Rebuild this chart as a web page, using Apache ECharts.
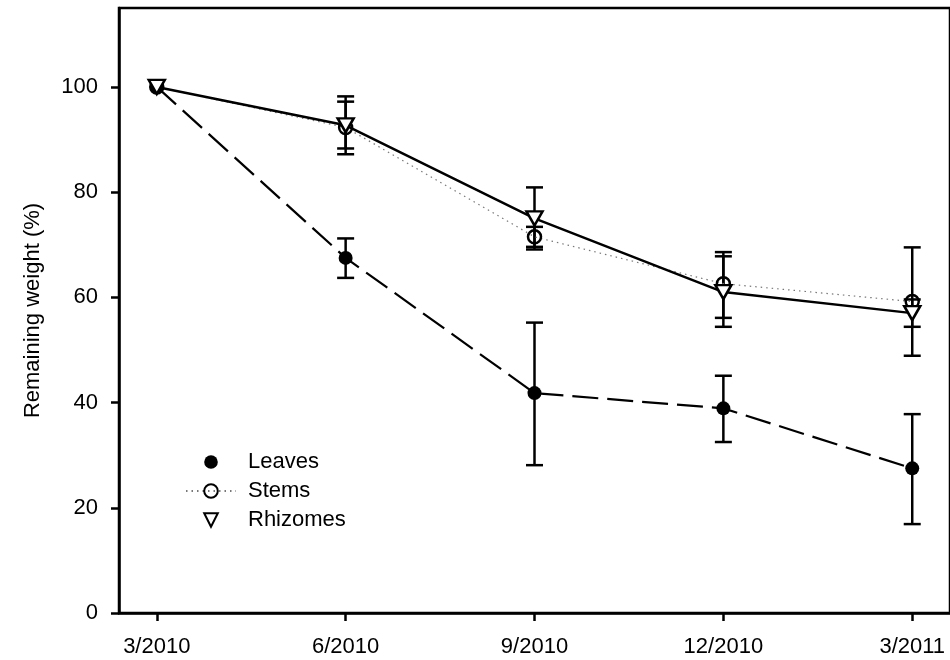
<!DOCTYPE html>
<html>
<head>
<meta charset="utf-8">
<script src="https://cdn.jsdelivr.net/npm/echarts@6/dist/echarts.min.js"></script>
<style>html,body{margin:0;padding:0;background:#fff;}#c{width:950px;height:660px;}</style>
</head>
<body>
<div id="c"></div>
<script>
const dates = ['3/2010', '6/2010', '9/2010', '12/2010', '3/2011'];
const yTicks = [0, 20, 40, 60, 80, 100];
const leaves = [100, 67.5, 41.8, 38.9, 27.5];
const leavesLow = [100, 63.7, 28.1, 32.5, 16.9];
const leavesHigh = [100, 71.2, 55.2, 45.1, 37.8];
const stems = [100, 92.3, 71.5, 62.6, 59.2];
const stemsLow = [100, 88.3, 69.6, 56.1, 48.9];
const stemsHigh = [100, 97.2, 73.4, 68.6, 69.5];
const rhizomes = [100, 92.7, 75.0, 61.0, 57.0];
const rhizomesLow = [100, 87.2, 69.1, 54.4, 54.4];
const rhizomesHigh = [100, 98.2, 80.9, 67.8, 59.6];

const FONT = 'Liberation Sans, Arial, sans-serif';
const pts = arr => arr.map((v, i) => [i, v]);
const errData = (lo, hi) => lo.map((l, i) => [i, l, hi[i]]).filter(d => d[1] !== d[2]);

function errSeries(name, lo, hi) {
  return {
    type: 'custom',
    name: name + ' err',
    z: 1,
    silent: true,
    data: errData(lo, hi),
    encode: { x: 0, y: [1, 2] },
    renderItem: function (params, api) {
      const x = api.value(0);
      const a = api.coord([x, api.value(1)]);
      const b = api.coord([x, api.value(2)]);
      const hw = 8.5;
      const st = { stroke: '#000', lineWidth: 2.5 };
      return {
        type: 'group',
        children: [
          { type: 'line', shape: { x1: a[0], y1: a[1], x2: b[0], y2: b[1] }, style: st },
          { type: 'line', shape: { x1: a[0] - hw, y1: a[1], x2: a[0] + hw, y2: a[1] }, style: st },
          { type: 'line', shape: { x1: b[0] - hw, y1: b[1], x2: b[0] + hw, y2: b[1] }, style: st }
        ]
      };
    }
  };
}

const chart = echarts.init(document.getElementById('c'), null, { renderer: 'canvas' });
chart.setOption({
  animation: false,
  backgroundColor: '#fff',
  textStyle: { fontFamily: FONT, color: '#000' },
  grid: { left: 119, top: 8, width: 837, height: 605, show: true, borderColor: '#000', borderWidth: 2.5, backgroundColor: 'transparent' },
  xAxis: {
    type: 'value', min: -0.2, max: 4.2,
    splitLine: { show: false },
    axisLine: { onZero: false, lineStyle: { color: '#000', width: 2.5 } },
    axisTick: { show: true, length: 8, lineStyle: { color: '#000', width: 2.5 }, customValues: [0, 1, 2, 3, 4] },
    axisLabel: { customValues: [0, 1, 2, 3, 4], formatter: v => dates[Math.round(v)], color: '#000', fontSize: 22, fontFamily: FONT, margin: 23 }
  },
  yAxis: {
    type: 'value', min: 0, max: 115,
    name: 'Remaining weight (%)', nameLocation: 'middle', nameGap: 75,
    nameTextStyle: { fontSize: 22, fontFamily: FONT, color: '#000' },
    splitLine: { show: false },
    axisLine: { show: true, onZero: false, lineStyle: { color: '#000', width: 2.5 } },
    axisTick: { show: true, length: 8, lineStyle: { color: '#000', width: 2.5 }, customValues: yTicks },
    axisLabel: { customValues: yTicks, color: '#000', fontSize: 22, fontFamily: FONT, margin: 21 }
  },
  legend: {
    orient: 'vertical', left: 180, top: 446, itemWidth: 50, itemHeight: 17, itemGap: 7,
    textStyle: { fontSize: 22, fontFamily: FONT, color: '#000', padding: [0, 0, 0, 7] },
    data: [
      { name: 'Leaves', lineStyle: { opacity: 0 } },
      { name: 'Stems' },
      { name: 'Rhizomes', lineStyle: { opacity: 0 } }
    ]
  },
  series: [
    errSeries('Leaves', leavesLow, leavesHigh),
    errSeries('Stems', stemsLow, stemsHigh),
    errSeries('Rhizomes', rhizomesLow, rhizomesHigh),
    {
      name: 'Leaves', type: 'line', z: 3, data: pts(leaves),
      symbol: 'circle', symbolSize: 14,
      itemStyle: { color: '#000' },
      lineStyle: { color: '#000', width: 2.2, type: [26, 9] }
    },
    {
      name: 'Stems', type: 'line', z: 4, data: pts(stems),
      symbol: 'circle', symbolSize: 13,
      itemStyle: { color: 'rgba(255,255,255,0)', borderColor: '#000', borderWidth: 2.5 },
      lineStyle: { color: '#777', width: 1.2, type: [1.5, 4] }
    },
    {
      name: 'Rhizomes', type: 'line', z: 5, data: pts(rhizomes),
      symbol: 'triangle', symbolSize: [16, 14], symbolRotate: 180,
      itemStyle: { color: '#fff', borderColor: '#000', borderWidth: 2.5 },
      lineStyle: { color: '#000', width: 2.5, type: 'solid' }
    }
  ]
});
</script>
</body>
</html>
